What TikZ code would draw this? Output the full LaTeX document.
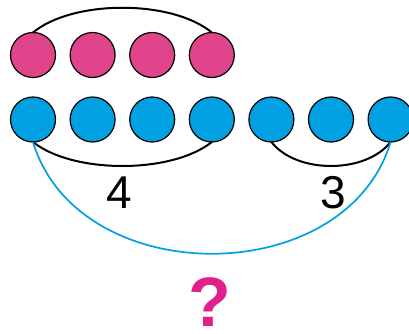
\documentclass[tikz,border=0pt]{standalone}
\usepackage{fontspec}
\setmainfont{Liberation Sans}
\usepackage{tikz}
\usetikzlibrary{positioning}
\definecolor{Pink}{HTML}{E0448A}
\definecolor{Sky} {HTML}{00A0E2}
\definecolor{Magenta}{HTML}{E2208A}
\tikzset{
  dot/.style={circle, draw=black, line width=1.2pt, inner sep=0pt, outer sep=0pt,
              minimum size=45pt},
  brace/.style={line width=2pt, line cap=round},
  num/.style={font=\fontsize{46}{46}\selectfont, inner sep=0pt}
}

\begin{document}
\begin{tikzpicture}[x=1pt,y=-1pt,node distance=14.6pt]
  \useasboundingbox (0,0) rectangle (409,334);
  % top row
  \node[dot,fill=Pink] (p1) at (33,55) {};
  \node[dot,fill=Pink,right=of p1] (p2) {};
  \node[dot,fill=Pink,right=of p2] (p3) {};
  \node[dot,fill=Pink,right=of p3] (p4) {};
  % bottom row
  \node[dot,fill=Sky] (b1) at (33,119.5) {};
  \node[dot,fill=Sky,right=of b1] (b2) {};
  \node[dot,fill=Sky,right=of b2] (b3) {};
  \node[dot,fill=Sky,right=of b3] (b4) {};
  \node[dot,fill=Sky,right=of b4] (b5) {};
  \node[dot,fill=Sky,right=of b5] (b6) {};
  \node[dot,fill=Sky,right=of b6] (b7) {};
  % arcs
  \draw[brace](p1.north) .. controls +(40,-33) and +(-40,-33) .. (p4.north);
  \draw[brace](b1.south) .. controls +(40,32) and +(-40,32) .. (b4.south);
  \draw[brace](b5.south) .. controls +(25,32) and +(-25,32) .. (b7.south);
  \draw[line width=1.7pt,color=Sky](b1.south) .. controls +(45,149) and +(-45,149) .. (b7.south);
  % labels
  \node[num] (n4) at (119,193) {4};
  \node[num] (n3) at (333,193) {3};
  \node[font=\fontsize{70}{70}\selectfont\bfseries,color=Magenta,inner sep=0pt] (q) at (210,302) {?};
\end{tikzpicture}
\end{document}
